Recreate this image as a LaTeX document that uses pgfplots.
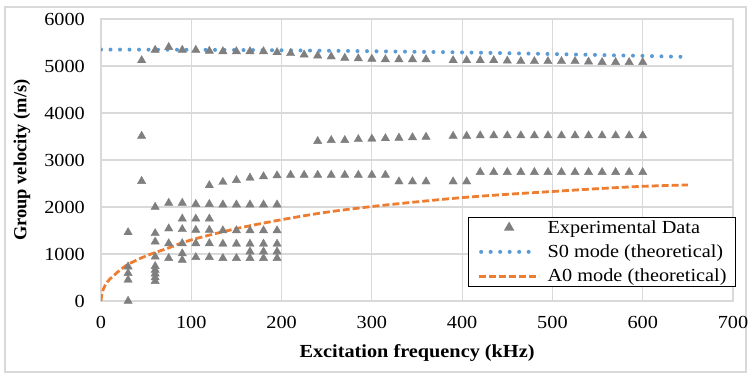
\documentclass[border=0pt]{standalone}
\usepackage{pgfplots}
\pgfplotsset{compat=1.18}
\usepackage{fontspec}
\setmainfont[FakeStretch=1.1]{Liberation Serif}
\newfontfamily\plainfont{Liberation Serif}
\definecolor{sblue}{HTML}{5B9BD5}
\definecolor{aorange}{HTML}{ED7D31}
\definecolor{mgray}{HTML}{7F7F7F}
\definecolor{gridc}{HTML}{D9D9D9}
\pgfplotsset{
  markleg/.style={legend image code/.code={\draw[##1] plot coordinates {(30bp,0)};}},
  dotleg/.style={legend image code/.code={\draw[##1] (2bp,0) -- (58bp,0);}},
  dashleg/.style={legend image code/.code={\draw[##1] (0bp,0) -- (60bp,0);}},
}
\begin{document}
\begin{tikzpicture}[x=1bp,y=1bp]
\path[use as bounding box] (0,0) rectangle (751,377);
\draw[gridc, line width=1.2bp] (5,5) rectangle (746,370);
\begin{axis}[
  at={(101bp,76bp)}, anchor=south west,
  scale only axis, width=632bp, height=282bp,
  xmin=0, xmax=700, ymin=0, ymax=6000,
  xtick={0,100,...,700}, ytick={0,1000,...,6000},
  grid=major, major grid style={gridc, line width=1.2bp},
  axis line style={gridc, line width=1.2bp},
  major tick length=0pt,
  /pgf/number format/1000 sep={},
  /pgf/number format/assume math mode=true,
  ticklabel style={font=\fontsize{18.5}{20}\selectfont, inner sep=0pt},
  yticklabel style={anchor=east, xshift=-16bp},
  xticklabel style={anchor=north, yshift=-15bp},
  xlabel={\textbf{Excitation frequency (kHz)}},
  ylabel={\plainfont\textbf{Group velocity (m/s)}},
  label style={font=\fontsize{18.5}{20}\selectfont},
  xlabel style={at={(axis description cs:0.5,-0.184)}, anchor=center},
  ylabel style={at={(axis description cs:-0.125,0.5)}, anchor=center},
  legend style={at={(1.005,0.05)}, anchor=south east, draw=black, line width=1.2bp,
    font=\fontsize{18.5}{21}\selectfont, nodes={inner sep=0pt}, row sep=10bp, column sep=7bp,
    inner xsep=9bp, inner ysep=3bp, fill=white},
  legend cell align=left,
]
\addplot[only marks, mark=triangle*, mark size=4.8bp, mgray, mark options={draw=mgray, fill=mgray}, markleg]
coordinates {
(30,0)(30,450)(30,590)(30,730)(30,1460)
(45,2550)(45,3510)(45,5120)
(60,420)(60,500)(60,580)(60,660)(60,740)(60,940)(60,1260)(60,1440)(60,2000)(60,5340)
(75,910)(75,1225)(75,1540)(75,2085)(75,5400)
(90,870)(90,1010)(90,1225)(90,1525)(90,1750)(90,2085)(90,5340)
(105,930)(105,1225)(105,1510)(105,1750)(105,2060)(105,5340)
(120,930)(120,1225)(120,1510)(120,1750)(120,2060)(120,2460)(120,5320)
(135,910)(135,1215)(135,1500)(135,2050)(135,2530)(135,5310)
(150,910)(150,1215)(150,1500)(150,2050)(150,2570)(150,5310)
(165,910)(165,1050)(165,1215)(165,1500)(165,2050)(165,2620)(165,5310)
(180,910)(180,1050)(180,1215)(180,1500)(180,2050)(180,2650)(180,5310)
(195,910)(195,1050)(195,1215)(195,1500)(195,2050)(195,2670)(195,5290)
(210,2680)(210,5270)
(225,2680)(225,5240)
(240,2680)(240,3400)(240,5220)
(255,2680)(255,3420)(255,5200)
(270,2680)(270,3420)(270,5170)
(285,2680)(285,3440)(285,5160)
(300,2680)(300,3450)(300,5150)
(315,2680)(315,3460)(315,5140)
(330,2540)(330,3470)(330,5140)
(345,2540)(345,3480)(345,5140)
(360,2540)(360,3490)(360,5140)
(390,2540)(390,3510)(390,5120)
(405,2540)(405,3510)(405,5120)
(420,2740)(420,3520)(420,5120)
(435,2740)(435,3520)(435,5120)
(450,2740)(450,3520)(450,5110)
(465,2740)(465,3520)(465,5100)
(480,2740)(480,3520)(480,5100)
(495,2740)(495,3520)(495,5100)
(510,2740)(510,3520)(510,5100)
(525,2740)(525,3520)(525,5100)
(540,2740)(540,3520)(540,5090)
(555,2740)(555,3520)(555,5080)
(570,2740)(570,3520)(570,5080)
(585,2740)(585,3520)(585,5080)
(600,2740)(600,3520)(600,5080)
};
\addlegendentry{Experimental Data}
\addplot[sblue, line width=4bp, line cap=round, dash pattern=on 0bp off 9.5bp, no marks, dotleg]
coordinates {(0,5350)(100,5345)(200,5335)(300,5315)(400,5290)(500,5255)(600,5215)(645,5195)};
\addlegendentry{S0 mode (theoretical)}
\addplot[aorange, line width=2.8bp, dash pattern=on 7bp off 3bp, no marks, smooth, dashleg]
coordinates {(0,0)(1,150)(3,270)(6,380)(10,470)(20,640)(30,780)(50,960)(75,1130)(100,1300)(150,1540)(200,1730)(250,1890)(300,2010)(350,2110)(400,2200)(450,2270)(500,2330)(550,2390)(600,2440)(650,2470)};
\addlegendentry{A0 mode (theoretical)}
\end{axis}
\end{tikzpicture}
\end{document}
